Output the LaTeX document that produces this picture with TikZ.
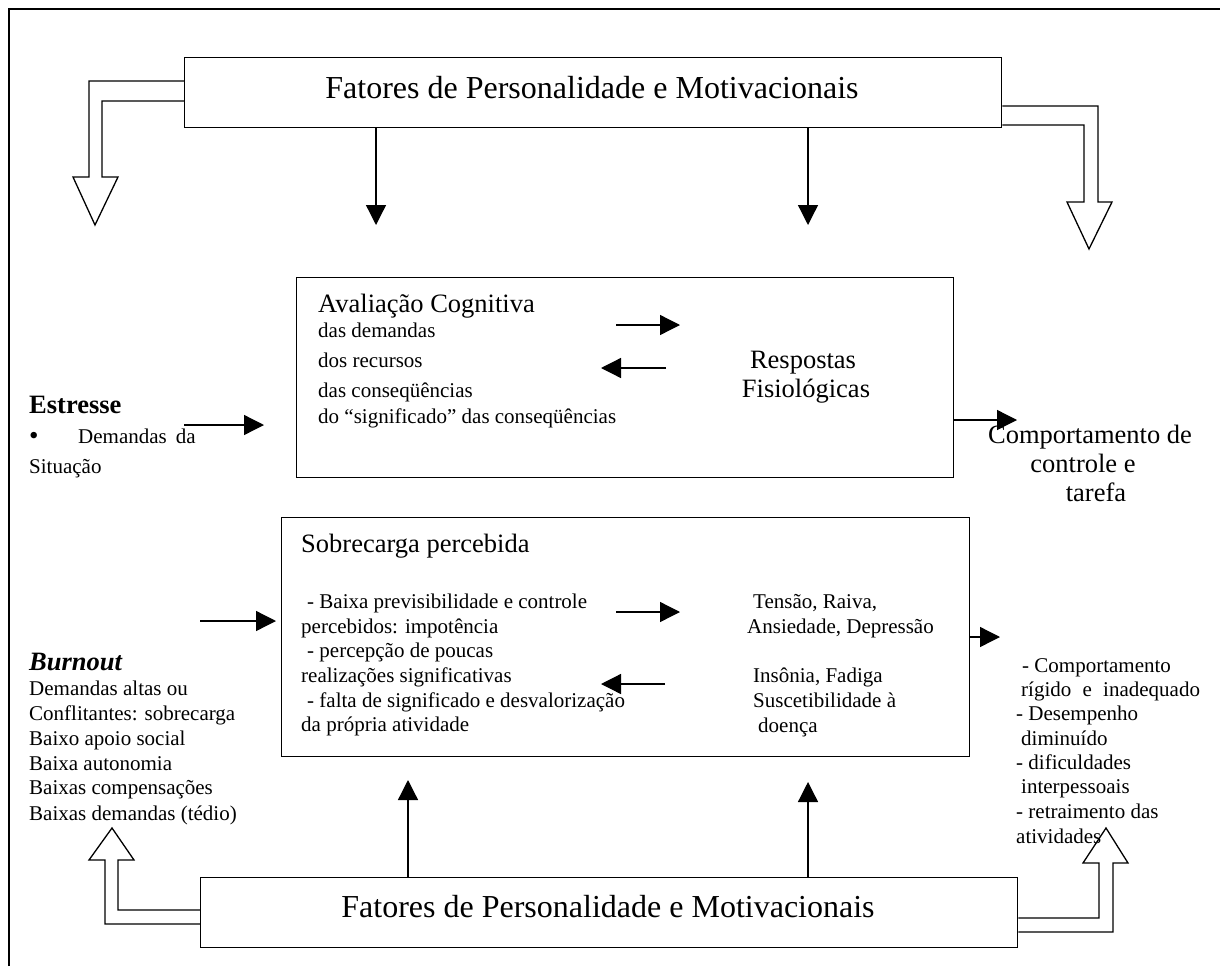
\documentclass[tikz,border=0pt]{standalone}
\usepackage{fontspec}
\setmainfont{Liberation Serif}
\usetikzlibrary{arrows.meta}
\begin{document}
\begin{tikzpicture}[x=1pt,y=-1pt,
  box/.style={draw, line width=1.3pt, inner sep=0pt, anchor=north west},
  lg/.style={font=\fontsize{32}{38}\selectfont, inner sep=0pt, anchor=base},
  md/.style={font=\fontsize{26.5}{31}\selectfont, inner sep=0pt, anchor=base west},
  mdc/.style={font=\fontsize{26.5}{31}\selectfont, inner sep=0pt, anchor=base},
  sm/.style={font=\fontsize{21}{24.6}\selectfont, inner sep=0pt, anchor=base west},
  arr/.style={line width=1.3pt, -{Triangle[length=20pt,width=20pt]}},
  hollow/.style={line width=1.3pt, line join=miter}]
\useasboundingbox (0,0) rectangle (1220,966);
% frame
\draw[line width=1.3pt] (9,966) -- (9,9) -- (1220,9);

% boxes
\node[box, minimum width=817pt, minimum height=70pt] (top) at (184,57) {};
\node[box, minimum width=657pt, minimum height=200pt] (aval) at (296,277) {};
\node[box, minimum width=688pt, minimum height=239pt] (sobre) at (281,517) {};
\node[box, minimum width=817pt, minimum height=70pt] (bot) at (200,877) {};

% top / bottom texts
\node[lg] (ttop) at (592,98) {Fatores de Personalidade e Motivacionais};
\node[lg] (tbot) at (608,917) {Fatores de Personalidade e Motivacionais};

% Avaliacao box texts
\node[md] (av0) at (318,312) {Avaliação Cognitiva};
\node[sm] (av1) at (318,337) {das demandas};
\node[sm] (av2) at (318,367) {dos recursos};
\node[sm] (av3) at (318,397) {das conseqüências};
\node[sm] (av4) at (318,423) {do “significado” das conseqüências};
\node[mdc] (rf1) at (803,368) {Respostas};
\node[mdc] (rf2) at (806,397) {Fisiológicas};

% Comportamento de controle e tarefa
\node[mdc] (ct1) at (1090,443) {Comportamento de};
\node[mdc] (ct2) at (1083,472) {controle e};
\node[mdc] (ct3) at (1096,501) {tarefa};

% Estresse
\node[md, font=\fontsize{26.5}{31}\selectfont\bfseries] (es0) at (29,413) {Estresse};
\node[sm] (es1) at (29,443) {\makebox[49pt][l]{\raisebox{-1pt}{\fontsize{27}{30}\selectfont\textbullet}}Demandas\hspace{9pt}da};
\node[sm] (es2) at (29,473) {Situação};

% Sobrecarga box texts
\node[md] (sb0) at (301,552) {Sobrecarga percebida};
\node[sm] (sb1) at (307,608) {- Baixa previsibilidade e controle};
\node[sm] (sb2) at (301,633) {percebidos: impotência};
\node[sm] (sb3) at (307,657) {- percepção de poucas};
\node[sm] (sb4) at (301,682) {realizações significativas};
\node[sm] (sb5) at (307,707) {- falta de significado e desvalorização};
\node[sm] (sb6) at (301,731) {da própria atividade};
\node[sm] (tr1) at (753,608) {Tensão, Raiva,};
\node[sm] (tr2) at (747,633) {Ansiedade, Depressão};
\node[sm] (tr3) at (753,682) {Insônia, Fadiga};
\node[sm] (tr4) at (753,707) {Suscetibilidade à};
\node[sm] (tr5) at (758,732) {doença};

% right list
\node[sm] (rl1) at (1022,672) {- Comportamento};
\node[sm] (rl2) at (1021,696) {rígido\hspace{6pt} e\hspace{6pt} inadequado};
\node[sm] (rl3) at (1016,720) {- Desempenho};
\node[sm] (rl4) at (1021,745) {diminuído};
\node[sm] (rl5) at (1016,769) {- dificuldades};
\node[sm] (rl6) at (1021,793) {interpessoais};
\node[sm] (rl7) at (1016,818) {- retraimento das};
\node[sm] (rl8) at (1016,843) {atividades};

% Burnout
\node[md, font=\fontsize{26.5}{31}\selectfont\bfseries\itshape] (bo0) at (29,670) {Burnout};
\node[sm] (bo1) at (29,695) {Demandas altas ou};
\node[sm] (bo2) at (29,720) {Conflitantes: sobrecarga};
\node[sm] (bo3) at (29,745) {Baixo apoio social};
\node[sm] (bo4) at (29,770) {Baixa autonomia};
\node[sm] (bo5) at (29,794) {Baixas compensações};
\node[sm] (bo6) at (29,820) {Baixas demandas (tédio)};

% coordinates for free arrow ends
\coordinate (d1) at (376,225);
\coordinate (d2) at (808,225);
\coordinate (u1) at (408,780);
\coordinate (u2) at (808,782);
\coordinate (ea) at (184,425);
\coordinate (eb) at (264,425);
\coordinate (ba) at (200,621);
\coordinate (bb) at (276,621);
\coordinate (ca) at (1017,420);
\coordinate (cb) at (1000,637);

% arrows from top box down
\draw[arr] (top.south -| d1) -- (d1);
\draw[arr] (top.south -| d2) -- (d2);
% arrows from bottom box up
\draw[arr] (bot.north -| u1) -- (u1);
\draw[arr] (bot.north -| u2) -- (u2);
% inner arrows
\draw[arr] (616,325) -- (680,325);
\draw[arr] (666,368) -- (601,368);
\draw[arr] (616,612) -- (680,612);
\draw[arr] (665,684) -- (601,684);
% side arrows
\draw[arr] (ea) -- (eb);
\draw[arr] (ba) -- (bb);
\draw[arr] (aval.east |- ca) -- (ca);
\draw[arr] (sobre.east |- cb) -- (cb);

% hollow arrows
\draw[hollow] (top.west |- 0,81) -- (89,81) -- (89,177) -- (73,177) -- (95,225) -- (118,177) -- (102,177) -- (102,101) -- (top.west |- 0,101);
\draw[hollow] (top.east |- 0,106) -- (1098,106) -- (1098,202) -- (1112,202) -- (1089,249) -- (1067,202) -- (1084,202) -- (1084,125) -- (top.east |- 0,125);
\draw[hollow] (bot.west |- 0,924) -- (105,924) -- (105,860) -- (89,860) -- (112,828) -- (134,860) -- (118,860) -- (118,910) -- (bot.west |- 0,910);
\draw[hollow] (bot.east |- 0,932) -- (1113,932) -- (1113,863) -- (1128,863) -- (1106,828) -- (1083,863) -- (1099,863) -- (1099,918) -- (bot.east |- 0,918);
\end{tikzpicture}
\end{document}
